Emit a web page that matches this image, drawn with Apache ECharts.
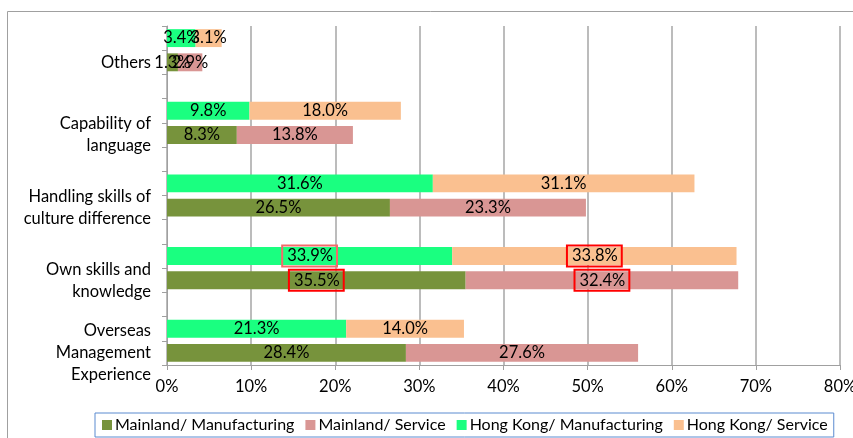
<!DOCTYPE html>
<html>
<head>
<meta charset="utf-8">
<script src="https://cdn.jsdelivr.net/npm/echarts@6/dist/echarts.min.js"></script>
<style>
  html, body { margin: 0; padding: 0; background: #fff; }
  #chart { width: 853px; height: 438px; }
</style>
</head>
<body>
<div id="chart"></div>
<script>
// Factor categories, top to bottom
const categories = [
  'Others',
  'Capability of\nlanguage',
  'Handling skills of\nculture difference',
  'Own skills and\nknowledge',
  'Overseas\nManagement\nExperience'
];
// Shares (%) per group
const mainlandManufacturing = [1.3, 8.3, 26.5, 35.5, 28.4];
const mainlandService       = [2.9, 13.8, 23.3, 32.4, 27.6];
const hongKongManufacturing = [3.4, 9.8, 31.6, 33.9, 21.3];
const hongKongService       = [3.1, 18.0, 31.1, 33.8, 14.0];
const seriesNames = ['Mainland/ Manufacturing', 'Mainland/ Service', 'Hong Kong/ Manufacturing', 'Hong Kong/ Service'];
const xTicks = [0, 10, 20, 30, 40, 50, 60, 70, 80];
// Values framed in red: [series index, category index]
const highlighted = [[0, 3], [1, 3], [2, 3], [3, 3]];

const colors = ['#77933c', '#d99694', '#1aff80', '#fac090'];
const FONT = 'Lato, "Open Sans", sans-serif';
const FS = 16.5;

// Each factor takes three rows: Hong Kong, Mainland, spacer
const rows = [];
categories.forEach((c, i) => {
  rows.push('hk' + i, c, 'gap' + i);
});
rows.pop(); // no spacer after the last factor

function buildRows(values, isHK, sIdx) {
  const out = [];
  values.forEach((v, i) => {
    const hi = highlighted.some(h => h[0] === sIdx && h[1] === i);
    const item = { value: v };
    if (hi) {
      item.label = {
        borderColor: sIdx === 2 ? '#f36a6a' : '#ff0000',
        borderWidth: 2,
        padding: [3, 4, 1, 5]
      };
    }
    if (isHK) out.push(item, '-', '-');
    else out.push('-', item, '-');
  });
  out.pop();
  return out;
}

const groups = [
  [mainlandManufacturing, false],
  [mainlandService, false],
  [hongKongManufacturing, true],
  [hongKongService, true]
];

const series = groups.map((g, k) => ({
  name: seriesNames[k],
  type: 'bar',
  stack: 'total',
  barCategoryGap: '26%',
  itemStyle: { color: colors[k] },
  label: {
    show: true,
    position: 'inside',
    color: '#000',
    fontFamily: FONT,
    fontSize: FS,
    formatter: p => p.value.toFixed(1) + '%'
  },
  emphasis: { disabled: true },
  data: buildRows(g[0], g[1], k)
}));

const chart = echarts.init(document.getElementById('chart'));
chart.setOption({
  animation: false,
  backgroundColor: '#fff',
  textStyle: { fontFamily: FONT },
  grid: { left: 167, right: 13, top: 26, bottom: 73, containLabel: false, outerBoundsMode: 'none' },
  graphic: [{
    type: 'rect',
    left: 5, top: 9,
    shape: { width: 860, height: 440 },
    style: { fill: 'none', stroke: '#a0a0a0', lineWidth: 1 },
    silent: true
  }],
  legend: {
    left: 95, bottom: 1,
    width: 745,
    itemWidth: 10, itemHeight: 10, itemGap: 11,
    icon: 'rect',
    padding: [4, 6, 4, 7],
    borderColor: '#5b8bd0', borderWidth: 1,
    textStyle: { fontFamily: FONT, fontSize: 16, color: '#000', padding: [0, 0, 0, -2] },
    data: seriesNames
  },
  xAxis: {
    type: 'value',
    min: xTicks[0], max: xTicks[xTicks.length - 1], interval: 10,
    axisLine: { show: true, lineStyle: { color: '#a0a0a0' } },
    axisTick: { show: true, length: 5, lineStyle: { color: '#a0a0a0' } },
    axisLabel: { formatter: v => v + '%', color: '#000', fontFamily: FONT, fontSize: FS, margin: 13 },
    splitLine: { show: true, lineStyle: { color: '#a6a6a6', width: 1.5 } }
  },
  yAxis: {
    type: 'category',
    inverse: true,
    data: rows,
    axisLine: { show: true, lineStyle: { color: '#a0a0a0' } },
    axisTick: { show: true, length: 5, lineStyle: { color: '#a0a0a0' } },
    axisLabel: {
      interval: 0,
      color: '#000', fontFamily: FONT, fontSize: FS, lineHeight: 22,
      margin: 16, align: 'right',
      formatter: v => (v.startsWith('hk') || v.startsWith('gap')) ? '' : v
    }
  },
  series: series
});
</script>
</body>
</html>
